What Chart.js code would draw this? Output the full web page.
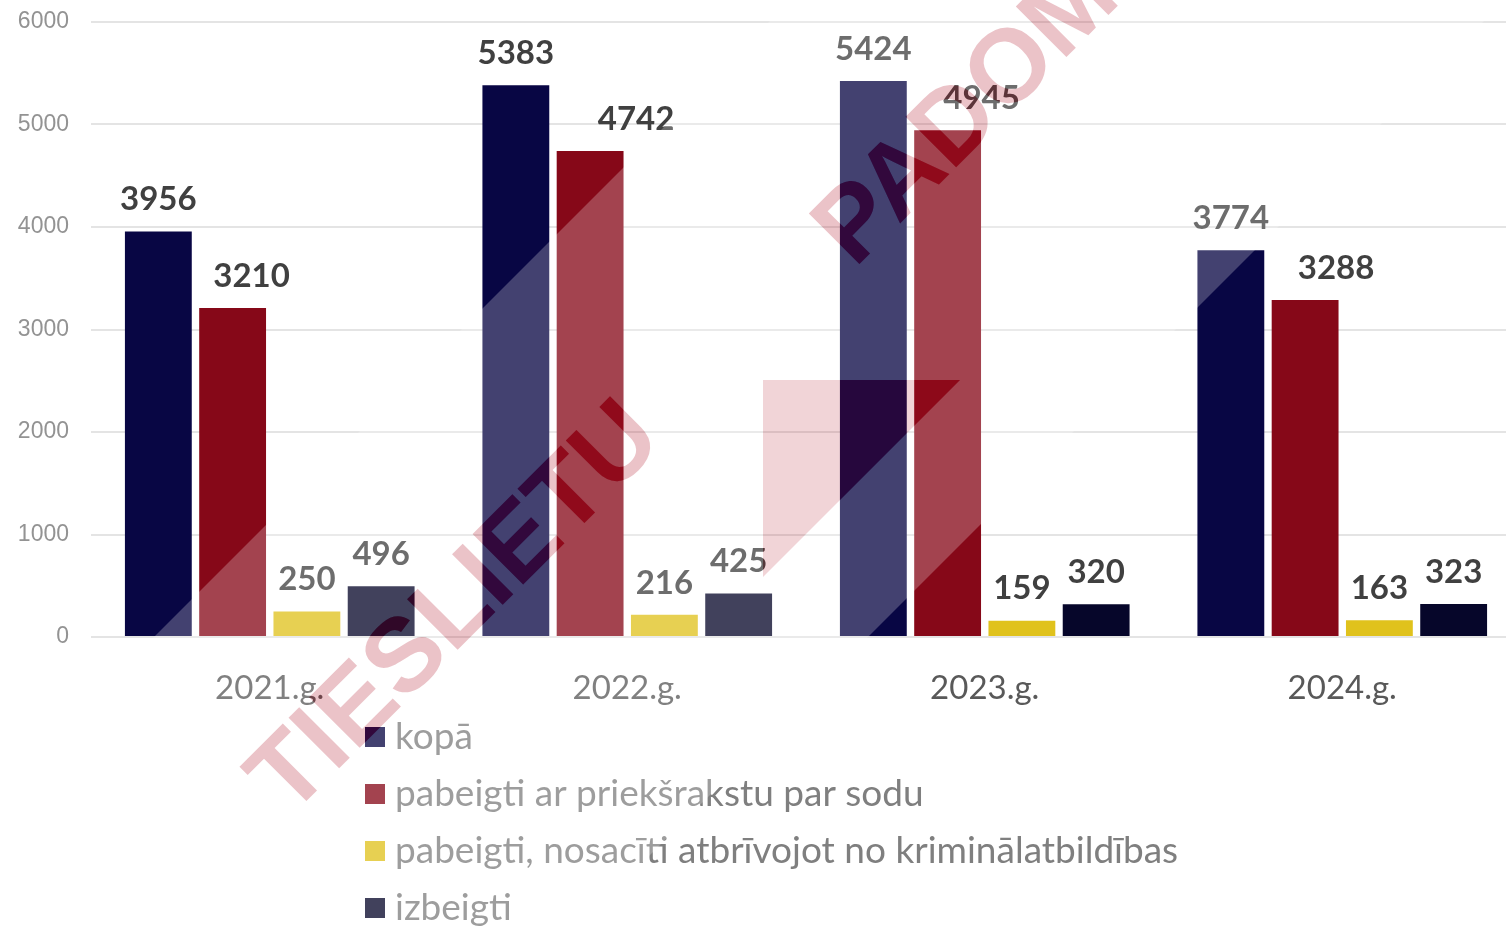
<!DOCTYPE html>
<html>
<head>
<meta charset="utf-8">
<script src="https://cdn.jsdelivr.net/npm/chart.js@4.4.1/dist/chart.umd.min.js"></script>
<style>
  html, body { margin: 0; padding: 0; background: #fff; overflow: hidden; }
  #wrap { position: relative; width: 1521px; height: 928px; }
</style>
</head>
<body>
<div id="wrap"><canvas id="chart"></canvas></div>
<script>
"use strict";
// data
const years = ['2021.g.', '2022.g.', '2023.g.', '2024.g.'];
const kopa = [3956, 5383, 5424, 3774];
const arSodu = [3210, 4742, 4945, 3288];
const atbrivojot = [250, 216, 159, 163];
const izbeigti = [496, 425, 320, 323];
const yTicks = [0, 1000, 2000, 3000, 4000, 5000, 6000];
const seriesNames = [
    'kopā',
    'pabeigti ar priekšrakstu par sodu',
    'pabeigti, nosacīti atbrīvojot no kriminālatbildības',
    'izbeigti'
];

(() => {
    const canvasElement = document.querySelector('#chart');

    // value labels above each bar (the red series labels sit a bit to the right, as in the original)
    const valueLabels = {
        id: 'valueLabels',
        afterDatasetsDraw(chart, args, opts) {
            const ctx = chart.ctx;
            ctx.save();
            ctx.font = 'bold 33px Lato';
            ctx.fillStyle = '#404040';
            ctx.textAlign = 'center';
            ctx.textBaseline = 'middle';
            chart.data.datasets.forEach((dataset, di) => {
                const meta = chart.getDatasetMeta(di);
                meta.data.forEach((bar, i) => {
                    const shift = (opts.shiftX[di] || [])[i] || 0;
                    ctx.fillText(String(dataset.data[i]), bar.x + shift, bar.y - 32);
                });
            });
            ctx.restore();
        }
    };

    // vertical legend under the axis
    const listLegend = {
        id: 'listLegend',
        afterDraw(chart, args, opts) {
            const ctx = chart.ctx;
            ctx.save();
            ctx.font = '37px Lato';
            ctx.textBaseline = 'middle';
            ctx.textAlign = 'left';
            chart.data.datasets.forEach((dataset, di) => {
                const y = opts.top + di * opts.rowHeight;
                ctx.fillStyle = dataset.backgroundColor;
                ctx.fillRect(opts.left, y - 10, 20, 20);
                ctx.fillStyle = '#7f7f7f';
                ctx.fillText(dataset.label, opts.left + 30, y);
            });
            ctx.restore();
        }
    };

    // the "TIESLIETU PADOME" watermark laid over the picture
    function watermarkText(c) {
        c.save();
        c.font = 'bold 104px "Liberation Sans"';
        c.textAlign = 'center';
        c.textBaseline = 'middle';
        c.translate(457, 610);
        c.rotate(-Math.PI / 4);
        c.fillText('TIESLIETU', 0, 0);
        c.restore();
        c.save();
        c.font = 'bold 104px "Liberation Sans"';
        c.textAlign = 'center';
        c.textBaseline = 'middle';
        c.translate(993, 90);
        c.rotate(-Math.PI / 4);
        c.fillText('PADOME', 0, 0);
        c.restore();
    }
    function watermarkLogo(c) {
        c.beginPath();
        c.moveTo(763, 380);
        c.lineTo(960, 380);
        c.lineTo(763, 577);
        c.closePath();
        c.fill();
    }
    const watermark = {
        id: 'watermark',
        afterDraw(chart) {
            const ctx = chart.ctx;
            const off = document.createElement('canvas');
            off.width = chart.width;
            off.height = chart.height;
            const o = off.getContext('2d');
            o.fillStyle = 'rgba(255,255,255,0.24)';
            o.beginPath();
            o.moveTo(-200, 991);
            o.lineTo(991, -200);
            o.lineTo(1705, -200);
            o.lineTo(-200, 1705);
            o.closePath();
            o.fill();
            o.globalCompositeOperation = 'destination-out';
            o.fillStyle = '#000';
            watermarkText(o);
            watermarkLogo(o);
            ctx.save();
            ctx.drawImage(off, 0, 0, chart.width, chart.height);
            ctx.fillStyle = 'rgba(175,15,35,0.25)';
            watermarkText(ctx);
            ctx.fillStyle = 'rgba(175,15,35,0.18)';
            watermarkLogo(ctx);
            ctx.restore();
        }
    };

    new Chart(canvasElement, {
        type: 'bar',
        data: {
            labels: years,
            datasets: [
                { label: seriesNames[0], data: kopa, backgroundColor: '#080644' },
                { label: seriesNames[1], data: arSodu, backgroundColor: '#860818' },
                { label: seriesNames[2], data: atbrivojot, backgroundColor: '#E0C21C' },
                { label: seriesNames[3], data: izbeigti, backgroundColor: '#06062A' }
            ]
        },
        options: {
            responsive: true,
            maintainAspectRatio: false,
            animation: false,
            devicePixelRatio: 1,
            layout: { padding: { top: 22, right: 0, bottom: 0, left: 0 } },
            datasets: {
                bar: { categoryPercentage: 0.831, barPercentage: 0.9, borderWidth: 0 }
            },
            scales: {
                x: {
                    grid: { display: false },
                    border: { display: false },
                    ticks: {
                        font: { family: 'Lato', size: 33 },
                        color: '#595959',
                        padding: 24
                    },
                    afterFit(scale) { scale.height = 291; }
                },
                y: {
                    min: 0,
                    max: 6000,
                    afterBuildTicks(scale) { scale.ticks = yTicks.map((v) => ({ value: v })); },
                    grid: { color: '#e4e4e4', lineWidth: 2, drawTicks: false },
                    border: { display: false },
                    ticks: {
                        font: { family: '"Liberation Sans"', size: 23 },
                        color: '#939393',
                        padding: 22,
                        callback: (value) => String(value)
                    },
                    afterFit(scale) {
                        scale.width = 91;
                        scale.paddingTop = 0;
                        scale.paddingBottom = 0;
                    }
                }
            },
            plugins: {
                legend: { display: false },
                tooltip: { enabled: false },
                valueLabels: { shiftX: [[], [19, 46, 34, 31]] },
                listLegend: { left: 365, top: 737, rowHeight: 57 }
            }
        },
        plugins: [valueLabels, listLegend, watermark]
    });
})();
</script>
</body>
</html>
